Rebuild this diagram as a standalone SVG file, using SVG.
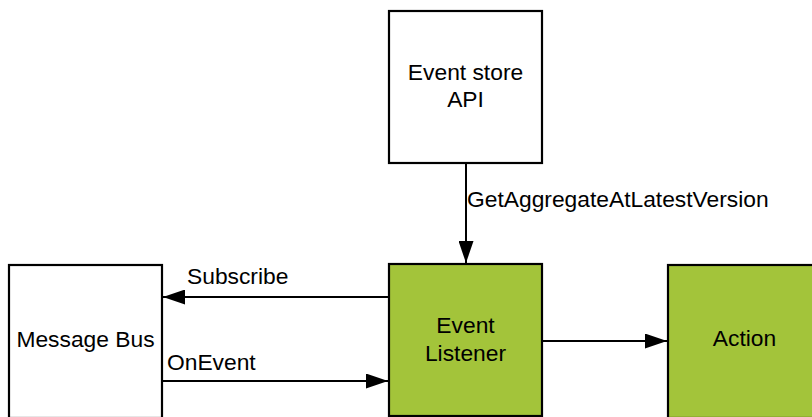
<svg xmlns="http://www.w3.org/2000/svg" width="812" height="417" viewBox="0 0 812 417">
  <style>
    .box { fill: #ffffff; stroke: #000000; stroke-width: 2.2; }
    .green { fill: #a3c43a; }
    .label { font-family: "Liberation Sans", Arial, sans-serif; font-size: 22.8px; fill: #000000; }
    .mid { text-anchor: middle; }
    .edge { fill: none; stroke: #000000; stroke-width: 2; }
  </style>
  <defs>
    <marker id="arrow" viewBox="0 0 22 15" refX="22" refY="7.5" markerWidth="22" markerHeight="15" markerUnits="userSpaceOnUse" orient="auto">
      <path d="M0,0 L22,7.5 L0,15 Z" fill="#000000"/>
    </marker>
  </defs>

  <rect width="812" height="417" fill="#ffffff"/>

  <g id="connectors">
    <line class="edge" x1="466" y1="164" x2="466" y2="263" marker-end="url(#arrow)"/>
    <line class="edge" x1="389" y1="297" x2="163" y2="297" marker-end="url(#arrow)"/>
    <line class="edge" x1="162" y1="381" x2="388" y2="381" marker-end="url(#arrow)"/>
    <line class="edge" x1="542" y1="341" x2="667" y2="341" marker-end="url(#arrow)"/>
    <text class="label" x="467" y="207">GetAggregateAtLatestVersion</text>
    <text class="label" x="187" y="284">Subscribe</text>
    <text class="label" x="167" y="370">OnEvent</text>
  </g>

  <g id="event-store-api">
    <rect class="box" x="389" y="11" width="153" height="152"/>
    <text class="label mid" x="465.5" y="80">Event store</text>
    <text class="label mid" x="465.5" y="107">API</text>
  </g>

  <g id="event-listener">
    <rect class="box green" x="389" y="264" width="153" height="152"/>
    <text class="label mid" x="465.5" y="333">Event</text>
    <text class="label mid" x="465.5" y="361">Listener</text>
  </g>

  <g id="message-bus">
    <rect class="box" x="9" y="265" width="153" height="153"/>
    <text class="label mid" x="85.5" y="347">Message Bus</text>
  </g>

  <g id="action">
    <rect class="box green" x="668" y="265" width="153" height="153"/>
    <text class="label mid" x="744.5" y="346">Action</text>
  </g>
</svg>
